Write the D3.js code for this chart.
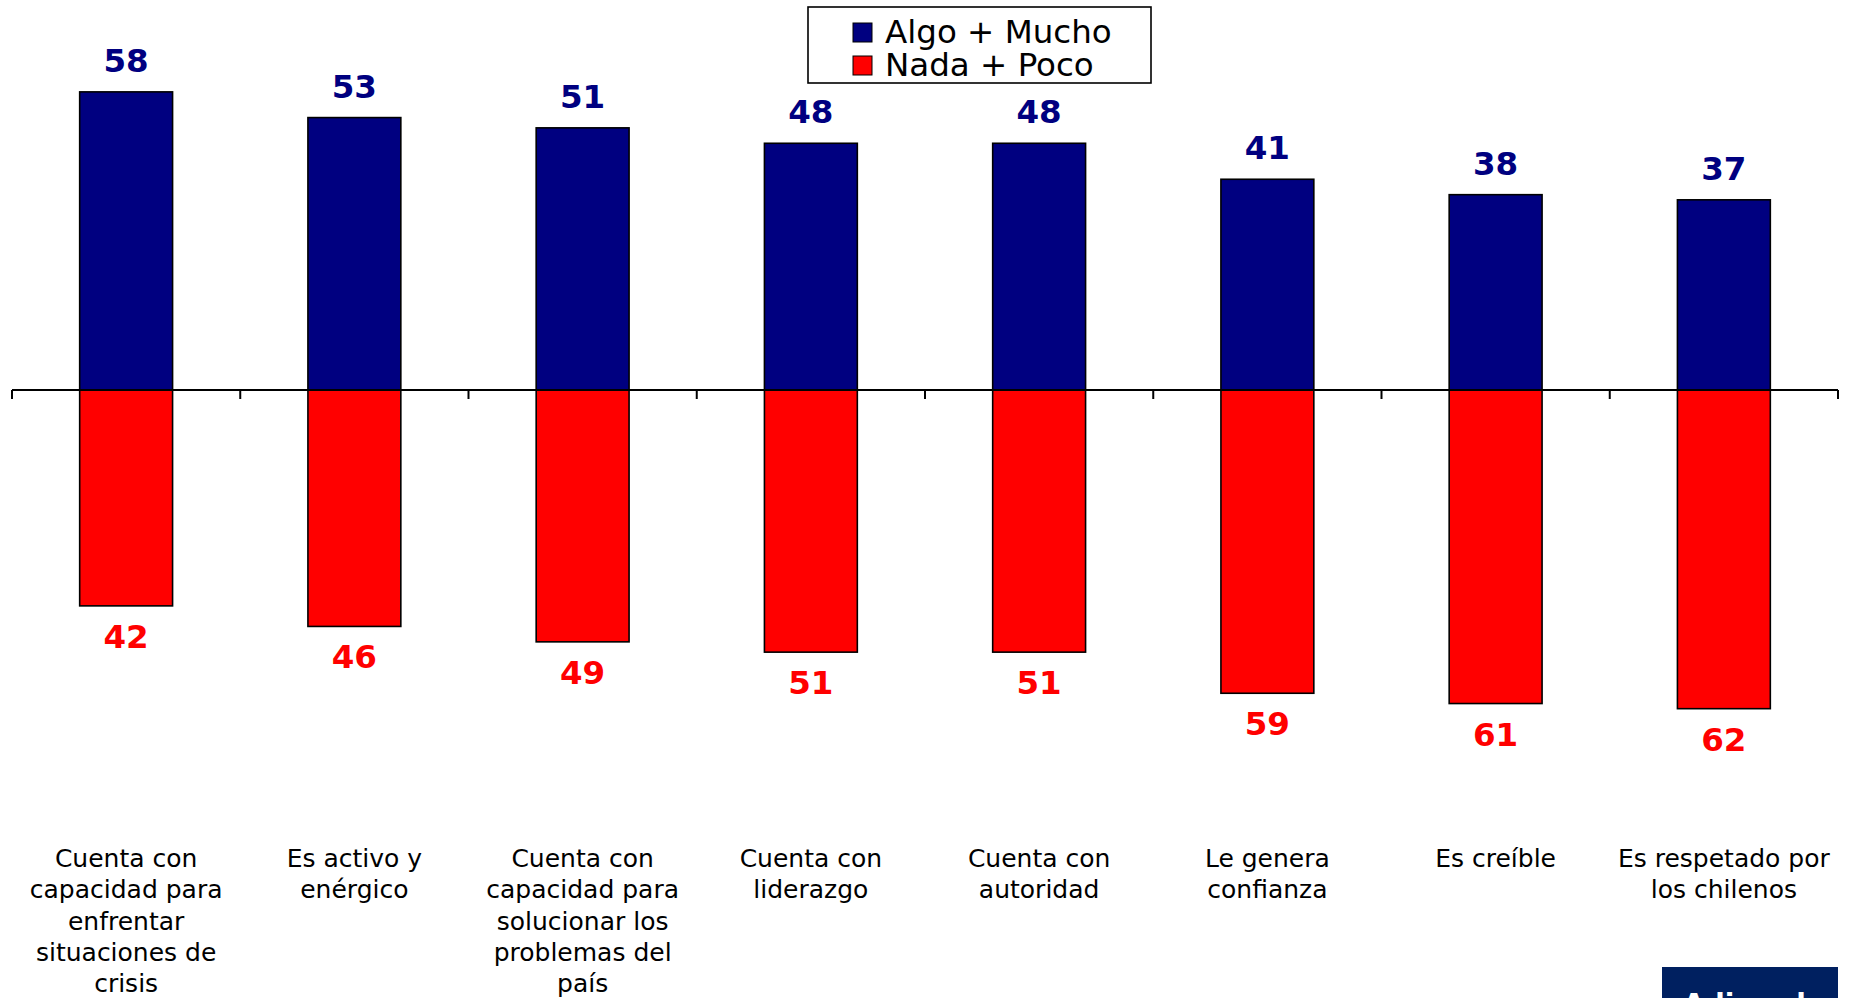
<!DOCTYPE html>
<html>
<head>
<meta charset="utf-8">
<script src="https://cdn.jsdelivr.net/npm/d3@7/dist/d3.min.js"></script>
<style>
  html, body { margin: 0; padding: 0; background: #fff; overflow: hidden; }
  svg { display: block; }
</style>
</head>
<body>
<svg id="chart" width="1852" height="998"></svg>
<script>
const categories = [
  "Cuenta con\ncapacidad para\nenfrentar\nsituaciones de\ncrisis",
  "Es activo y\nenérgico",
  "Cuenta con\ncapacidad para\nsolucionar los\nproblemas del\npaís",
  "Cuenta con\nliderazgo",
  "Cuenta con\nautoridad",
  "Le genera\nconfianza",
  "Es creíble",
  "Es respetado por\nlos chilenos"
];
const algoMucho = [58, 53, 51, 48, 48, 41, 38, 37];
const nadaPoco  = [42, 46, 49, 51, 51, 59, 61, 62];
const seriesNames = ["Algo + Mucho", "Nada + Poco"];
const seriesColors = ["#000080", "#FF0000"];
const footerText = "Adimark";

const svg = d3.select("#chart");
const FONT = "'DejaVu Sans', Verdana, sans-serif";

const x = d3.scaleBand()
  .domain(categories)
  .range([12, 1838])
  .paddingInner(0.593)
  .paddingOuter(0.593 / 2);

const y = d3.scaleLinear()
  .domain([-70, 70])
  .range([390 + 70 * 5.14, 390 - 70 * 5.14]);

const data = categories.map((c, i) => ({ cat: c, pos: algoMucho[i], neg: nadaPoco[i] }));

// positive bars
svg.append("g").selectAll("rect")
  .data(data).join("rect")
  .attr("x", d => x(d.cat))
  .attr("width", x.bandwidth())
  .attr("y", d => y(d.pos))
  .attr("height", d => y(0) - y(d.pos))
  .attr("fill", seriesColors[0])
  .attr("stroke", "#000")
  .attr("stroke-width", 1.6);

// negative bars
svg.append("g").selectAll("rect")
  .data(data).join("rect")
  .attr("x", d => x(d.cat))
  .attr("width", x.bandwidth())
  .attr("y", y(0))
  .attr("height", d => y(-d.neg) - y(0))
  .attr("fill", seriesColors[1])
  .attr("stroke", "#000")
  .attr("stroke-width", 1.6);

// axis line and boundary ticks
const [r0, r1] = x.range();
const axis = svg.append("g");
axis.append("line")
  .attr("x1", r0).attr("x2", r1)
  .attr("y1", y(0)).attr("y2", y(0))
  .attr("stroke", "#000").attr("stroke-width", 2);
const boundaries = d3.range(categories.length + 1).map(i => r0 + i * x.step());
axis.selectAll("line.tick")
  .data(boundaries).join("line")
  .attr("class", "tick")
  .attr("x1", d => d).attr("x2", d => d)
  .attr("y1", y(0)).attr("y2", y(0) + 9)
  .attr("stroke", "#000").attr("stroke-width", 2);

// value labels
svg.append("g").selectAll("text")
  .data(data).join("text")
  .attr("x", d => x(d.cat) + x.bandwidth() / 2)
  .attr("y", d => y(d.pos) - 20)
  .attr("text-anchor", "middle")
  .attr("font-family", FONT)
  .attr("font-weight", "bold")
  .attr("font-size", 32.5)
  .attr("fill", seriesColors[0])
  .text(d => d.pos);

svg.append("g").selectAll("text")
  .data(data).join("text")
  .attr("x", d => x(d.cat) + x.bandwidth() / 2)
  .attr("y", d => y(-d.neg) + 42)
  .attr("text-anchor", "middle")
  .attr("font-family", FONT)
  .attr("font-weight", "bold")
  .attr("font-size", 32.5)
  .attr("fill", seriesColors[1])
  .text(d => d.neg);

// category labels
const catG = svg.append("g");
data.forEach(d => {
  const t = catG.append("text")
    .attr("text-anchor", "middle")
    .attr("font-family", FONT)
    .attr("font-size", 25)
    .attr("fill", "#000");
  d.cat.split("\n").forEach((line, j) => {
    t.append("tspan")
      .attr("x", x(d.cat) + x.bandwidth() / 2)
      .attr("y", 867 + j * 31.3)
      .text(line);
  });
});

// legend
const lg = svg.append("g");
lg.append("rect")
  .attr("x", 808).attr("y", 7)
  .attr("width", 343).attr("height", 76)
  .attr("fill", "#fff").attr("stroke", "#000").attr("stroke-width", 1.6);
seriesNames.forEach((name, i) => {
  lg.append("rect")
    .attr("x", 853).attr("y", 23 + i * 33)
    .attr("width", 19).attr("height", 19)
    .attr("fill", seriesColors[i]).attr("stroke", "#000").attr("stroke-width", 1);
  lg.append("text")
    .attr("x", 885).attr("y", 43 + i * 32.5)
    .attr("font-family", FONT)
    .attr("font-size", 32.5)
    .attr("fill", "#000")
    .text(name);
});

// footer box (cut off at bottom, as in the source)
svg.append("rect")
  .attr("x", 1662).attr("y", 967)
  .attr("width", 176).attr("height", 40)
  .attr("fill", "#002060");
svg.append("text")
  .attr("x", 1683).attr("y", 1014)
  .attr("font-family", FONT)
  .attr("font-weight", "bold")
  .attr("font-size", 28)
  .attr("fill", "#fff")
  .text(footerText);
</script>
</body>
</html>
